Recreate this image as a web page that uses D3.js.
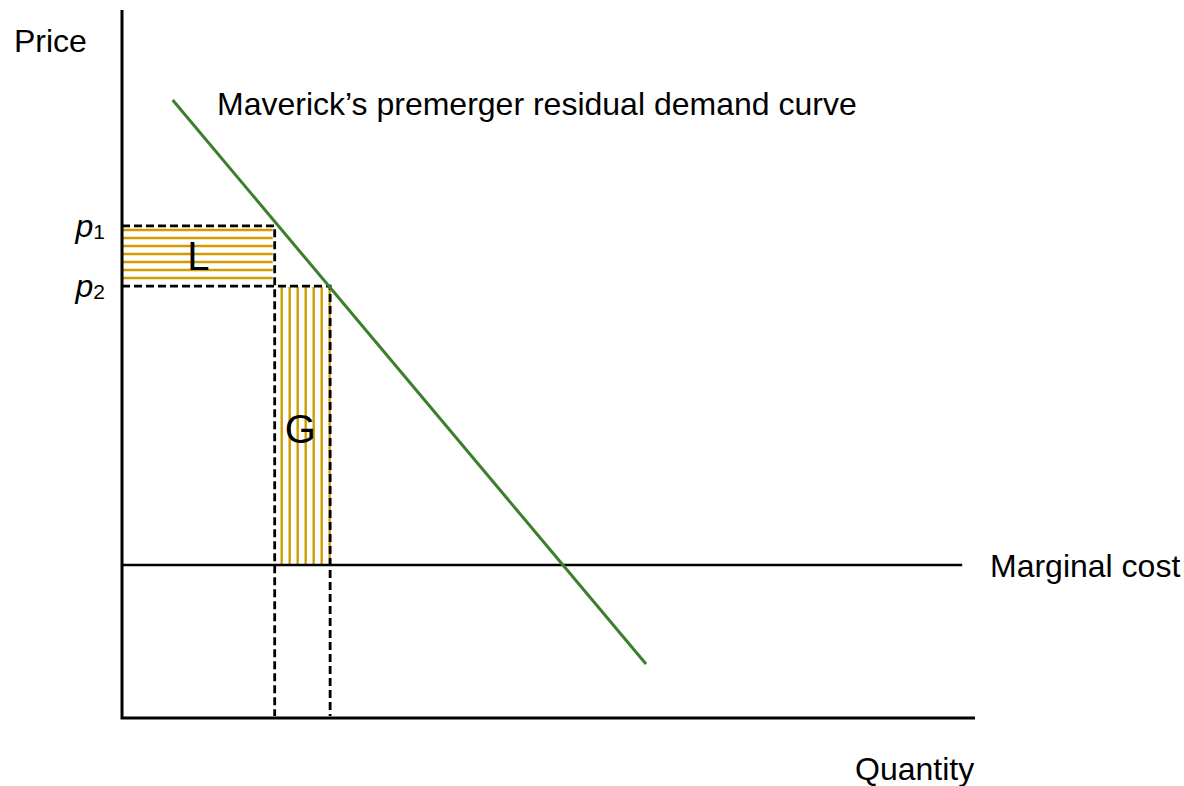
<!DOCTYPE html>
<html>
<head>
<meta charset="utf-8">
<script src="https://cdn.jsdelivr.net/npm/d3@7"></script>
<style>
  html, body { margin: 0; padding: 0; background: #fff; }
  text { font-family: "Liberation Sans", Arial, sans-serif; fill: #000; }
</style>
</head>
<body>
<svg id="chart" width="1184" height="786"></svg>
<script>
// Values (abstract units, 0–10 on both axes)
const demandCurve = [{ q: 0.594, p: 8.73 }, { q: 6.143, p: 0.763 }];
const priceLevels = [{ name: "p", sub: "1", value: 6.95 }, { name: "p", sub: "2", value: 6.10 }];
const quantityLevels = [1.79, 2.44];
const marginalCost = [{ q: 0, p: 2.16 }, { q: 9.85, p: 2.16 }];
const areaLabels = ["L", "G"];
const axisTitles = ["Quantity", "Price"];
const curveLabels = ["Maverick\u2019s premerger residual demand curve", "Marginal cost"];

const GREEN = '#3B7F2D';
const GOLD = '#D09C00';

const svg = d3.select('#chart');
const x = d3.scaleLinear().domain([0, 10]).range([122, 975]);
const y = d3.scaleLinear().domain([0, 10]).range([718, 10]);

const [p1, p2] = priceLevels.map(d => d.value);
const [q1, q2] = quantityLevels;
const mc = marginalCost[0].p;

// Hatched area L (horizontal lines between p1 and p2, left of q1)
const hatch = svg.append('g');
const step = 8;
d3.range(y(p1) + 4, y(p2) - 4, step).forEach(yy => {
  hatch.append('line')
    .attr('x1', x(0) + 1).attr('x2', x(q1) - 2)
    .attr('y1', yy).attr('y2', yy)
    .attr('stroke', GOLD).attr('stroke-width', 2.4);
});
// Hatched area G (vertical lines between q1 and q2, from p2 down to MC)
d3.range(x(q1) + 7, x(q2) + 1, step).forEach(xx => {
  hatch.append('line')
    .attr('x1', xx).attr('x2', xx)
    .attr('y1', y(p2) + 1).attr('y2', y(mc))
    .attr('stroke', GOLD).attr('stroke-width', 2.4);
});

// Dashed guides
const dash = svg.append('g')
  .attr('stroke', '#000').attr('stroke-width', 2.8)
  .attr('stroke-dasharray', '8,4').attr('fill', 'none');
priceLevels.forEach((d, i) => {
  const q = quantityLevels[i];
  dash.append('path').attr('d', `M${x(0)},${y(d.value)} H${x(q)} V${y(0) - 2}`);
});

// Marginal cost line
const line = d3.line().x(d => x(d.q)).y(d => y(d.p));
svg.append('path').datum(marginalCost)
  .attr('d', line).attr('stroke', '#000').attr('stroke-width', 2.4).attr('fill', 'none');

// Demand curve
svg.append('path').datum(demandCurve)
  .attr('d', line).attr('stroke', GREEN).attr('stroke-width', 3).attr('fill', 'none');

// Axes (plain lines, no ticks)
svg.append('path')
  .attr('d', `M${x(0)},${y(10)} V${y(0)} H${x(10)}`)
  .attr('stroke', '#000').attr('stroke-width', 3).attr('fill', 'none');

// Axis titles
svg.append('text').attr('x', 855).attr('y', 780).attr('font-size', 32).text(axisTitles[0]);
svg.append('text').attr('x', 14).attr('y', 52).attr('font-size', 32).text(axisTitles[1]);

// Curve labels
svg.append('text').attr('x', 217).attr('y', 115).attr('font-size', 32).text(curveLabels[0]);
svg.append('text').attr('x', 990).attr('y', y(mc) + 12).attr('font-size', 32).text(curveLabels[1]);

// Price level labels p1, p2
priceLevels.forEach(d => {
  const t = svg.append('text')
    .attr('x', 105).attr('y', y(d.value) + 11)
    .attr('text-anchor', 'end').attr('font-size', 32);
  t.append('tspan').attr('font-style', 'italic').text(d.name);
  t.append('tspan').attr('font-size', 21).attr('dy', 2).text(d.sub);
});

// Area labels
svg.append('text')
  .attr('x', (x(0) + x(q1)) / 2).attr('y', (y(p1) + y(p2)) / 2 + 14)
  .attr('text-anchor', 'middle').attr('font-size', 40).text(areaLabels[0]);
svg.append('text')
  .attr('x', (x(q1) + x(q2)) / 2 - 2).attr('y', 443)
  .attr('text-anchor', 'middle').attr('font-size', 40).text(areaLabels[1]);
</script>
</body>
</html>
